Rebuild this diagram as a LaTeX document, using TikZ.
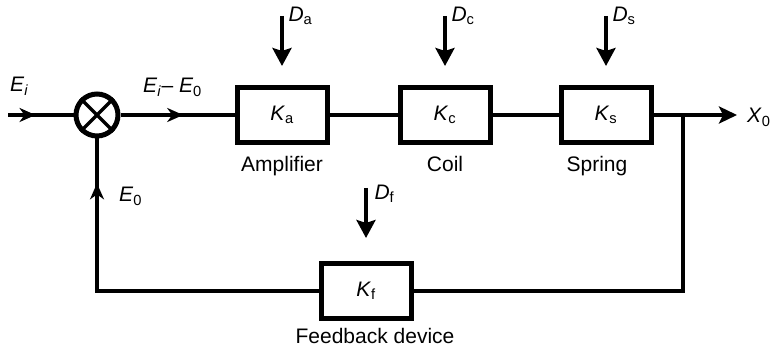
\documentclass[tikz,border=0pt]{standalone}
\usepackage{fontspec}
\setmainfont{Liberation Sans}
\usetikzlibrary{positioning,arrows.meta,decorations.markings,calc}

\newcommand{\sig}[2]{\textit{#1}\textsubscript{#2}}

\begin{document}
\begin{tikzpicture}[x=1pt,y=1pt,
    font=\fontsize{21}{25}\selectfont,
    block/.style={rectangle, draw, line width=5pt, minimum width=90pt, minimum height=55pt, inner sep=0pt},
    sumjn/.style={circle, draw, line width=5pt, minimum size=42pt, inner sep=0pt},
    wire/.style={line width=4.5pt},
    lbl/.style={inner sep=0pt},
    midarrow/.style={postaction={decorate}, decoration={markings,
        mark=at position #1 with {\arrow{Stealth[length=16pt,width=14pt,inset=5pt]}}}},
    dist/.style={-{Stealth[length=18pt,width=19pt,inset=3pt]}, line width=4.5pt}
]
\useasboundingbox (0,0) rectangle (770,353);

% blocks
\node[sumjn] (sum) at (97,238) {};
\draw[line width=3.5pt] (sum.45) -- (sum.225) (sum.135) -- (sum.-45);
\node[block] (ka) at (282,238) {\sig{K}{a}};
\node[block, right=68pt of ka] (kc) {\sig{K}{c}};
\node[block, right=66pt of kc] (ks) {\sig{K}{s}};
\node[block] (kf) at (366,62) {\sig{K}{f}};

\node[below=8pt of ka] (amp) {Amplifier};
\node[below=8pt of kc] (coil) {Coil};
\node[below=8pt of ks, xshift=-9pt] (spring) {Spring};
\node[below=4pt of kf, xshift=9pt] (fbd) {Feedback device};

% signals
\coordinate (in) at (8,238);
\coordinate (out) at (737,238);
\coordinate (br) at (683,238);

\draw[wire, midarrow=0.42] (in) -- (sum.west);
\draw[wire, midarrow=0.55] (sum.east) -- (ka.west);
\draw[wire] (ka) -- (kc);
\draw[wire] (kc) -- (ks);
\draw[wire, -{Stealth[length=18pt,width=17pt,inset=4pt]}] (ks) -- (out);
\draw[wire] (br) |- (kf.east);
\draw[wire, midarrow=0.88] (kf.west) -| (sum.south);

\node[lbl, anchor=base west] (ei) at (10,261) {\sig{E}{\textit{i}}};
\node[lbl, anchor=base west] (err) at (143,260) {\sig{E}{\textit{i}}\textendash\ \sig{E}{0}};
\node[lbl, anchor=base west] (e0) at (119,151) {\sig{E}{0}};
\node[lbl, anchor=base west] (x0) at (747,230) {\sig{X}{0}};

% disturbances
\coordinate (da) at ([yshift=69pt]ka.north);
\coordinate (dc) at ([yshift=69pt]kc.north);
\coordinate (ds) at ([yshift=69pt]ks.north);
\coordinate (df) at ([yshift=73pt]kf.north);
\draw[dist] (da) -- ([yshift=19pt]ka.north);
\draw[dist] (dc) -- ([yshift=19pt]kc.north);
\draw[dist] (ds) -- ([yshift=19pt]ks.north);
\draw[dist] (df) -- ([yshift=23pt]kf.north);
\node[right=3pt of da] (dal) {\sig{D}{a}};
\node[right=3pt of dc] (dcl) {\sig{D}{c}};
\node[right=3pt of ds] (dsl) {\sig{D}{s}};
\node[right=5pt of df, yshift=-6pt] (dfl) {\sig{D}{f}};

\end{tikzpicture}
\end{document}
